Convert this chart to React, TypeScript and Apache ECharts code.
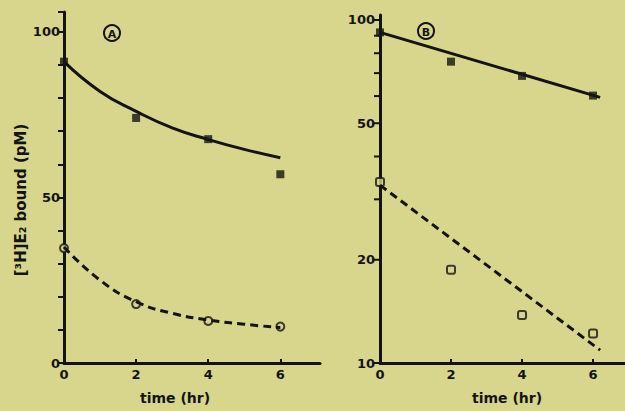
import React, { useEffect, useRef } from "react";
import * as echarts from "echarts";

// Panel A (linear scale)
const aTime = [0, 2, 4, 6];
const aBoundTotal = [91, 74, 67.6, 57];
const aBoundOpen = [34.7, 17.8, 12.7, 11];
const curveTime = [0, 1, 2, 3, 4, 5, 6];
const aCurveSolid = [91, 82, 76, 71, 67.5, 64.5, 62];
const aCurveDashed = [35, 25, 18.5, 15, 13, 11.7, 10.7];
const aYLabels = [0, 50, 100];

// Panel B (log scale)
const bTime = [0, 2, 4, 6];
const bBoundTotal = [92, 75.6, 68.7, 60.2];
const bBoundOpen = [33.7, 18.7, 13.8, 12.2];
const bLineTime = [0, 6.2];
const bLineSolid = [92, 59.5];
const bLineDashed = [33, 10.9];
const bYTicks = [10, 20, 30, 40, 50, 60, 70, 80, 90, 100];
const bYLabels = [10, 20, 50, 100];

const xTicks = [0, 2, 4, 6];

const BG = "#d8d68c";
const INK = "#141414";
const FONT = "'DejaVu Sans', 'Liberation Sans', sans-serif";

const zip = (xs: number[], ys: number[]) => xs.map((x, i) => [x, ys[i]]);

export default function App() {
  const ref = useRef<HTMLDivElement>(null);
  useEffect(() => {
    if (!ref.current) return;
    const chart = echarts.init(ref.current, null, { renderer: "svg" });
    const axisLabel = { color: INK, fontFamily: FONT, fontWeight: "bold", fontSize: 13 };
    const option: any = {
      animation: false,
      backgroundColor: BG,
      grid: [
        { left: 64, top: 12, width: 256, height: 351 },
        { left: 380, top: 15, width: 245, height: 348 },
      ],
      xAxis: [
        {
          gridIndex: 0, type: "value", min: 0, max: 7.1,
          axisLine: { lineStyle: { color: INK, width: 3 } },
          axisTick: { inside: true, length: 4, lineStyle: { color: INK, width: 2 }, customValues: xTicks },
          axisLabel: { ...axisLabel, margin: 5, customValues: xTicks },
          splitLine: { show: false },
        },
        {
          gridIndex: 1, type: "value", min: 0, max: 6.9,
          axisLine: { lineStyle: { color: INK, width: 3 } },
          axisTick: { inside: true, length: 4, lineStyle: { color: INK, width: 2 }, customValues: xTicks },
          axisLabel: { ...axisLabel, margin: 5, customValues: xTicks },
          splitLine: { show: false },
        },
      ],
      yAxis: [
        {
          gridIndex: 0, type: "value", min: 0, max: 106, interval: 10,
          axisLine: { show: true, lineStyle: { color: INK, width: 3 } },
          axisTick: { show: true, length: 6, lineStyle: { color: INK, width: 2 } },
          axisLabel: {
            ...axisLabel, margin: 4,
            formatter: (v: number) => (aYLabels.indexOf(v) >= 0 ? String(v) : ""),
          },
          splitLine: { show: false },
        },
        {
          gridIndex: 1, type: "log", logBase: 10, min: 10, max: 103.4,
          axisLine: { show: true, lineStyle: { color: INK, width: 3 } },
          axisTick: { show: false },
          axisLabel: { show: false },
          splitLine: { show: false },
        },
      ],
      series: [
        {
          type: "line", xAxisIndex: 0, yAxisIndex: 0, smooth: 0.5, symbol: "none",
          data: zip(curveTime, aCurveSolid),
          lineStyle: { color: INK, width: 3 },
        },
        {
          type: "line", xAxisIndex: 0, yAxisIndex: 0, smooth: 0.5, symbol: "none",
          data: zip(curveTime, aCurveDashed),
          lineStyle: { color: INK, width: 3, type: [8, 5] },
        },
        {
          type: "scatter", xAxisIndex: 0, yAxisIndex: 0, symbol: "rect", symbolSize: 8,
          data: zip(aTime, aBoundTotal), itemStyle: { color: INK },
        },
        {
          type: "scatter", xAxisIndex: 0, yAxisIndex: 0, symbol: "circle", symbolSize: 8,
          data: zip(aTime, aBoundOpen), itemStyle: { color: BG, borderColor: INK, borderWidth: 2 },
        },
        {
          type: "line", xAxisIndex: 1, yAxisIndex: 1, symbol: "none",
          data: zip(bLineTime, bLineSolid),
          lineStyle: { color: INK, width: 3 },
        },
        {
          type: "line", xAxisIndex: 1, yAxisIndex: 1, symbol: "none",
          data: zip(bLineTime, bLineDashed),
          lineStyle: { color: INK, width: 3, type: [8, 5] },
        },
        {
          type: "scatter", xAxisIndex: 1, yAxisIndex: 1, symbol: "rect", symbolSize: 8,
          data: zip(bTime, bBoundTotal), itemStyle: { color: INK },
        },
        {
          type: "scatter", xAxisIndex: 1, yAxisIndex: 1, symbol: "roundRect", symbolSize: 8,
          data: zip(bTime, bBoundOpen), itemStyle: { color: BG, borderColor: INK, borderWidth: 2 },
        },
        {
          type: "custom", xAxisIndex: 1, yAxisIndex: 1, clip: false, silent: true,
          data: bYTicks.map((v) => [0, v]),
          renderItem: (params: any, api: any) => {
            const v = api.value(1);
            const p = api.coord([0, v]);
            const children: any[] = [
              { type: "line", shape: { x1: p[0] - 6, y1: p[1], x2: p[0], y2: p[1] }, style: { stroke: INK, lineWidth: 2 } },
            ];
            if (bYLabels.indexOf(v) >= 0) {
              children.push({
                type: "text",
                style: {
                  text: String(v), x: p[0] - 5, y: p[1], align: "right", verticalAlign: "middle",
                  fill: INK, font: `bold 13px ${FONT}`,
                },
              });
            }
            return { type: "group", children };
          },
        },
      ],
      graphic: [
        {
          type: "text", x: 21, y: 200, rotation: Math.PI / 2,
          style: { text: "[³H]E₂ bound (pM)", align: "center", verticalAlign: "middle", fill: INK, font: `bold 15px ${FONT}` },
        },
        {
          type: "text", x: 175, y: 398,
          style: { text: "time (hr)", align: "center", verticalAlign: "middle", fill: INK, font: `bold 14px ${FONT}` },
        },
        {
          type: "text", x: 507, y: 398,
          style: { text: "time (hr)", align: "center", verticalAlign: "middle", fill: INK, font: `bold 14px ${FONT}` },
        },
        { type: "circle", shape: { cx: 112, cy: 33, r: 8 }, style: { fill: "none", stroke: INK, lineWidth: 2 } },
        {
          type: "text", x: 112, y: 34,
          style: { text: "A", align: "center", verticalAlign: "middle", fill: INK, font: `bold 11px ${FONT}` },
        },
        { type: "circle", shape: { cx: 426, cy: 31, r: 8 }, style: { fill: "none", stroke: INK, lineWidth: 2 } },
        {
          type: "text", x: 426, y: 32,
          style: { text: "B", align: "center", verticalAlign: "middle", fill: INK, font: `bold 11px ${FONT}` },
        },
      ],
    };
    chart.setOption(option);
    return () => chart.dispose();
  }, []);
  return <div ref={ref} style={{ position: "fixed", left: 0, top: 0, width: 625, height: 411 }} />;
}
